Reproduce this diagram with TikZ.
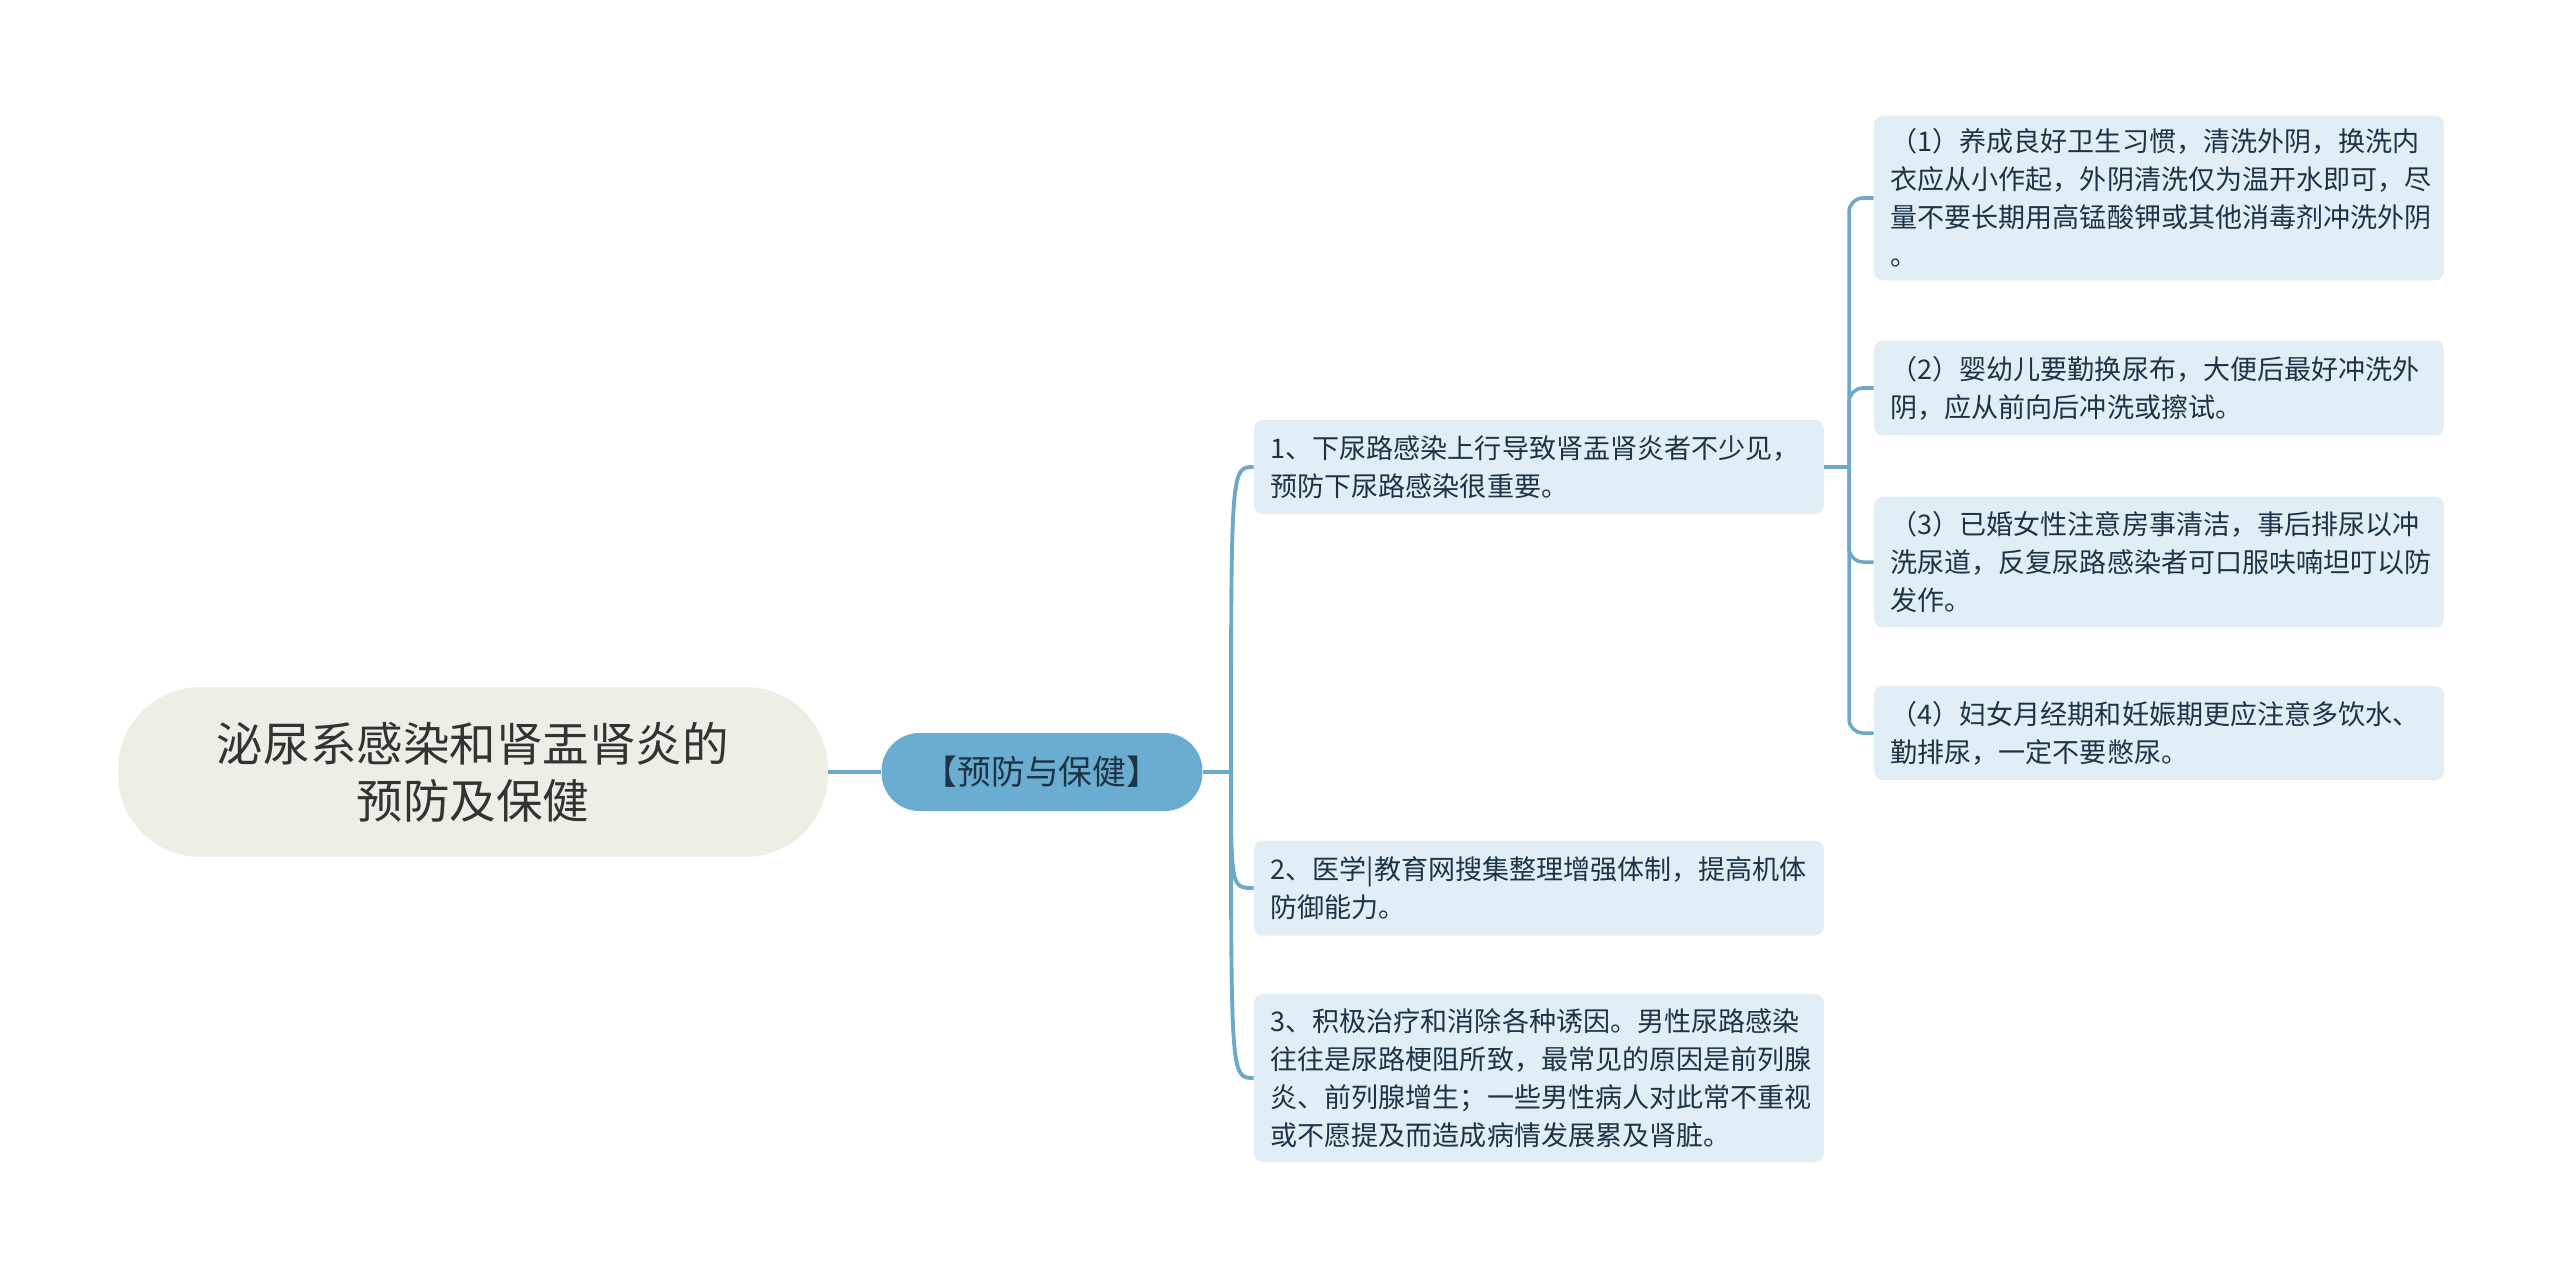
\documentclass[tikz,border=0pt]{standalone}
\usepackage{fontspec}
\setmainfont{Noto Sans CJK SC}
\usepackage{amsmath, amssymb, color, tikz}
\definecolor{rootfill}{RGB}{239,238,228}
\definecolor{mainfill}{RGB}{106,173,209}
\definecolor{leaffill}{RGB}{226,238,246}
\definecolor{linkcol}{RGB}{108,168,200}
\definecolor{leaftext}{RGB}{28,52,70}

\begin{document}
\begin{tikzpicture}[x=0.02cm,y=-0.02cm,
  rootbox/.style={fill=rootfill,rounded corners=1.65cm,minimum width=14.2cm,minimum height=3.4cm,align=center,text=black!80,font=\fontsize{26.5}{32.4}\selectfont},
  mainbox/.style={fill=mainfill,rounded corners=0.76cm,minimum width=6.42cm,minimum height=1.56cm,text=leaftext,font=\fontsize{19.2}{23}\selectfont},
  leaf/.style={fill=leaffill,rounded corners=5pt,text width=10.74cm,inner xsep=0.33cm,inner ysep=0pt,align=left,text=leaftext,font=\fontsize{15.4}{21.6}\selectfont},
  link/.style={draw=linkcol,line width=2.2pt}]
\useasboundingbox (0,0) rectangle (2560,1278);
% root and main topic
\node[rootbox] (root)at(473,772){泌尿系感染和肾盂肾炎的\\预防及保健};
\node[mainbox] (main)at(1042,772){【预防与保健】};
% first level
\node[leaf,minimum height=1.88cm] (c1)at(1539,467){1、下尿路感染上行导致肾盂肾炎者不少见，\\预防下尿路感染很重要。};
\node[leaf,minimum height=1.9cm] (c2)at(1539,888){2、医学|教育网搜集整理增强体制，提高机体\\防御能力。};
\node[leaf,minimum height=3.36cm] (c3)at(1539,1078){3、积极治疗和消除各种诱因。男性尿路感染\\往往是尿路梗阻所致，最常见的原因是前列腺\\炎、前列腺增生；一些男性病人对此常不重视\\或不愿提及而造成病情发展累及肾脏。};
% second level
\node[leaf,minimum height=3.3cm] (g1)at(2159,198){（1）养成良好卫生习惯，清洗外阴，换洗内\\衣应从小作起，外阴清洗仅为温开水即可，尽\\量不要长期用高锰酸钾或其他消毒剂冲洗外阴\\。};
\node[leaf,minimum height=1.9cm] (g2)at(2159,388){（2）婴幼儿要勤换尿布，大便后最好冲洗外\\阴，应从前向后冲洗或擦试。};
\node[leaf,minimum height=2.62cm] (g3)at(2159,562){（3）已婚女性注意房事清洁，事后排尿以冲\\洗尿道，反复尿路感染者可口服呋喃坦叮以防\\发作。};
\node[leaf,minimum height=1.88cm] (g4)at(2159,733){（4）妇女月经期和妊娠期更应注意多饮水、\\勤排尿，一定不要憋尿。};
% connectors
\coordinate (s1)at(1231,772);
\coordinate (s2)at(1849,467);
\draw[link] (root.east) -- (main.west);
\draw[link] (main.east) -- (s1);
\foreach \c in {c1,c2,c3}
  \draw[link] (s1) .. controls (s1 |- \c.west) .. (\c.west);
\draw[link,line width=2pt] (c1.east) -- (s2);
\foreach \g in {g1,g2,g3,g4}
  \draw[link,line width=2pt,rounded corners=8pt] (s2) |- (\g.west);
\end{tikzpicture}
\end{document}
